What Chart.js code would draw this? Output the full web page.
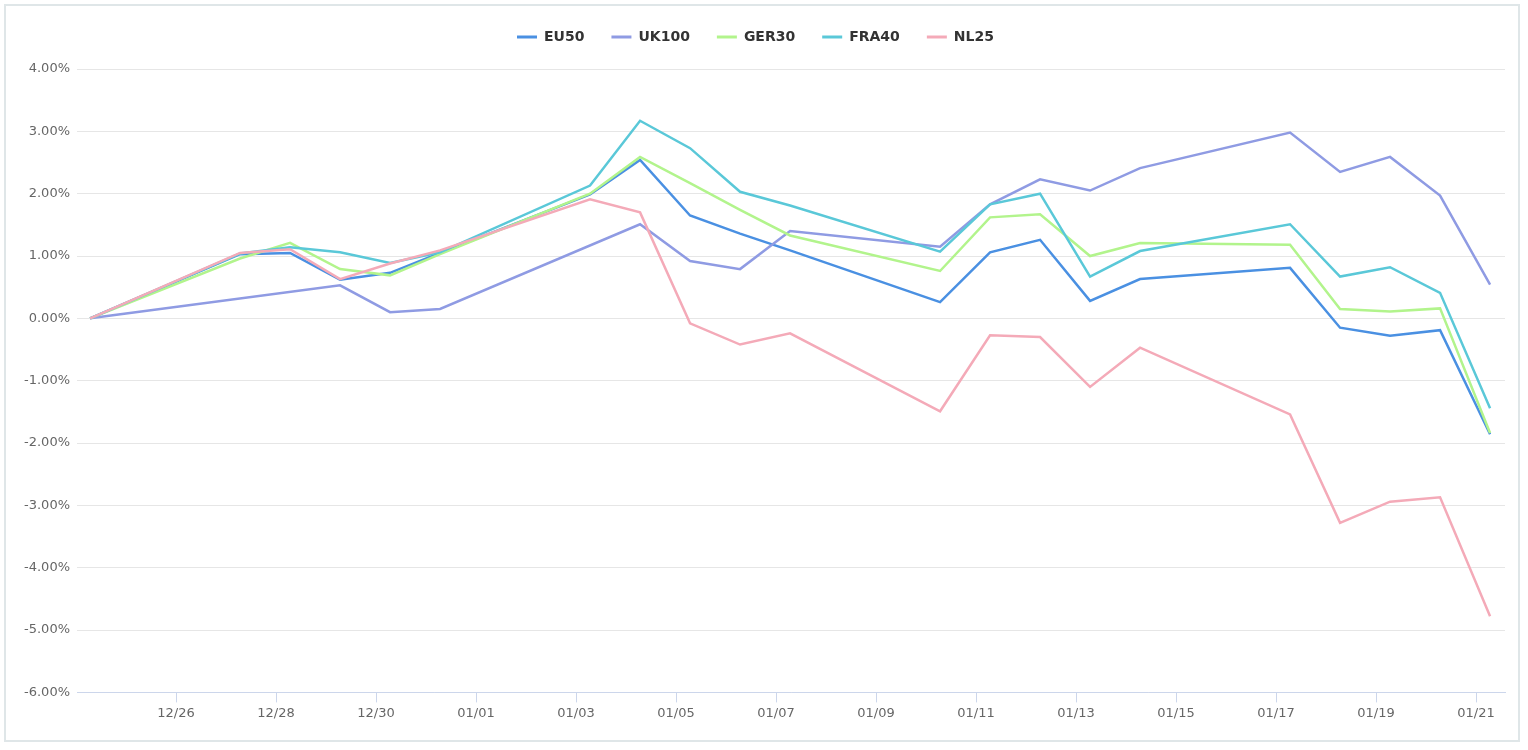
<!DOCTYPE html>
<html>
<head>
<meta charset="utf-8">
<script src="https://cdn.jsdelivr.net/npm/chart.js@4"></script>
<style>
  body { margin: 0; background: #fff; }
  #frame {
    position: absolute; left: 4px; top: 4px;
    width: 1516px; height: 738px;
    box-sizing: border-box;
    border: 2px solid #dfe6e8;
  }
  #wrap { position: absolute; left: 6px; top: 0; width: 1512px; height: 740px; }
</style>
</head>
<body>
<div id="frame"></div>
<div id="wrap"><canvas id="chart"></canvas></div>
<script>
// trading days (UK100 has gaps on its holidays)
const dates = [
  "2021-12-24", "2021-12-27", "2021-12-28", "2021-12-29", "2021-12-30", "2021-12-31",
  "2022-01-03", "2022-01-04", "2022-01-05", "2022-01-06", "2022-01-07",
  "2022-01-10", "2022-01-11", "2022-01-12", "2022-01-13", "2022-01-14",
  "2022-01-17", "2022-01-18", "2022-01-19", "2022-01-20", "2022-01-21"
];

const eu50  = [0, 1.03, 1.05, 0.62, 0.73, 1.05, 1.99, 2.54, 1.65, 1.36, 1.09, 0.26, 1.06, 1.26, 0.28, 0.63, 0.81, -0.15, -0.28, -0.19, -1.86];
const uk100 = [0, null, null, 0.53, 0.10, 0.15, null, 1.51, 0.92, 0.79, 1.40, 1.15, 1.83, 2.23, 2.05, 2.41, 2.98, 2.35, 2.59, 1.97, 0.54];
const ger30 = [0, 0.96, 1.21, 0.79, 0.69, 1.03, 2.00, 2.59, 2.17, 1.74, 1.33, 0.76, 1.62, 1.67, 1.00, 1.21, 1.18, 0.15, 0.11, 0.16, -1.84];
const fra40 = [0, 1.04, 1.14, 1.06, 0.89, 1.06, 2.13, 3.17, 2.73, 2.03, 1.81, 1.07, 1.83, 2.00, 0.67, 1.08, 1.51, 0.67, 0.82, 0.41, -1.44];
const nl25  = [0, 1.05, 1.11, 0.63, 0.88, 1.09, 1.91, 1.70, -0.08, -0.42, -0.24, -1.49, -0.27, -0.30, -1.10, -0.47, -1.54, -3.28, -2.94, -2.87, -4.78];

const tickDates = [
  "2021-12-26", "2021-12-28", "2021-12-30", "2022-01-01", "2022-01-03", "2022-01-05", "2022-01-07",
  "2022-01-09", "2022-01-11", "2022-01-13", "2022-01-15", "2022-01-17", "2022-01-19", "2022-01-21"
];

const seriesNames = ["EU50", "UK100", "GER30", "FRA40", "NL25"];
const seriesColors = ["#4a90e2", "#8f9be3", "#b2f48c", "#5ac8d8", "#f4aab8"];
const seriesValues = [eu50, uk100, ger30, fra40, nl25];

// x axis in days since the first date; quotes are stamped in the morning
const START = Date.UTC(2021, 11, 24);
const QUOTE_HOUR = 6.75;
function dayOf(iso) {
  const [y, m, d] = iso.split("-").map(Number);
  return (Date.UTC(y, m - 1, d) - START) / 86400000;
}
function mmdd(iso) {
  const p = iso.split("-");
  return p[1] + "/" + p[2];
}

const datasets = seriesNames.map((name, i) => ({
  label: name,
  data: dates.map((d, j) => ({ x: dayOf(d) + QUOTE_HOUR / 24, y: seriesValues[i][j] })),
  borderColor: seriesColors[i],
  backgroundColor: seriesColors[i],
  borderWidth: 2.5,
  pointRadius: 0,
  tension: 0,
  spanGaps: true,
  order: seriesNames.length - i
}));

// push the plot area down below the legend
const legendSpacer = {
  id: "legendSpacer",
  beforeLayout(chart) {
    const lg = chart.legend;
    if (lg && !lg._spaced) {
      const fit = lg.fit;
      lg.fit = function () { fit.call(this); this.height += 15; };
      lg._spaced = true;
    }
  }
};

const ctx = document.getElementById("chart").getContext("2d");
new Chart(ctx, {
  type: "line",
  data: { datasets },
  plugins: [legendSpacer],
  options: {
    responsive: true,
    maintainAspectRatio: false,
    animation: false,
    devicePixelRatio: 1,
    layout: { padding: { top: 3, right: 13, bottom: 16, left: 0 } },
    plugins: {
      tooltip: { enabled: false },
      legend: {
        position: "top",
        labels: {
          boxWidth: 20,
          boxHeight: 3,
          padding: 27,
          color: "#333",
          font: { family: "DejaVu Sans", size: 14, weight: "bold" },
          sort: (a, b) => a.datasetIndex - b.datasetIndex,
          generateLabels(chart) {
            const items = Chart.defaults.plugins.legend.labels.generateLabels(chart);
            items.forEach(it => { it.lineWidth = 0; });
            return items;
          }
        }
      }
    },
    scales: {
      x: {
        type: "linear",
        min: 0.02,
        max: 28.58,
        afterBuildTicks(scale) {
          scale.ticks = tickDates.map(d => ({ value: dayOf(d) }));
        },
        ticks: {
          autoSkip: false,
          maxRotation: 0,
          padding: 3,
          color: "#666",
          font: { family: "DejaVu Sans", size: 13 },
          callback: (v, i) => mmdd(tickDates[i])
        },
        grid: { drawOnChartArea: false, drawTicks: true, tickLength: 10, tickColor: "#ccd6eb" },
        border: { color: "#ccd6eb", width: 1 }
      },
      y: {
        min: -6,
        max: 4,
        afterFit(scale) { scale.width = 71; },
        ticks: {
          stepSize: 1,
          padding: 7,
          color: "#666",
          font: { family: "DejaVu Sans", size: 13 },
          callback: v => v.toFixed(2) + "%"
        },
        grid: { color: "#e6e6e6", drawTicks: false },
        border: { display: false }
      }
    }
  }
});
</script>
</body>
</html>
